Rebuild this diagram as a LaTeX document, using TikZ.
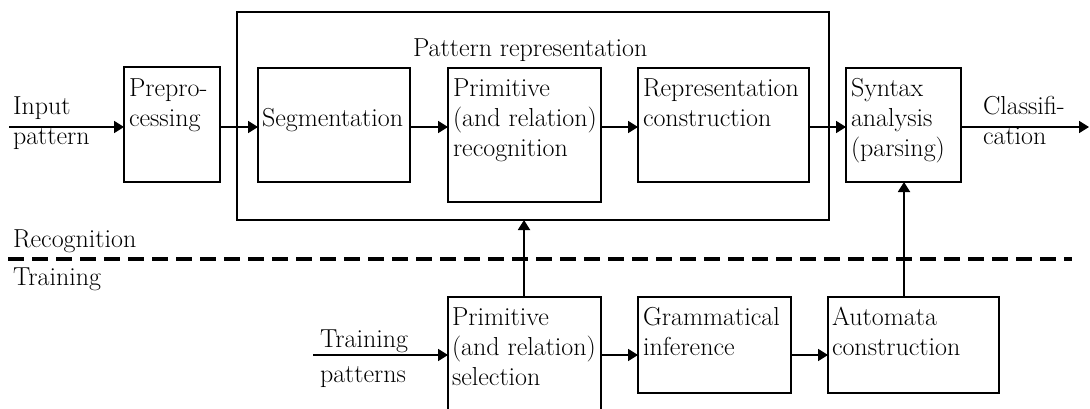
\documentclass[tikz,border=0pt]{standalone}
\usetikzlibrary{arrows.meta,calc}
\tikzset{
  blk/.style={draw, line width=1.8pt, inner sep=0pt, outer sep=0pt, anchor=north west},
  lbl/.style={inner sep=0pt, outer sep=0pt, anchor=base west, font=\fontsize{26}{30}\selectfont},
  flow/.style={line width=1.8pt, -{Triangle[length=10pt,width=12pt]}},
  split/.style={line width=3.5pt, dash pattern=on 16pt off 8pt}
}
\newcommand\lines[1]{\parbox[t]{230pt}{#1}}
\begin{document}
\begin{tikzpicture}[x=1pt,y=-1pt]
  \path[use as bounding box] (0,0) rectangle (1090,409);
  \clip (0,0) rectangle (1090,409);

  % helper rows and columns
  \coordinate (rowA) at (0,127);
  \coordinate (rowB) at (0,355);
  \coordinate (colP) at (524,0);
  \coordinate (colS) at (904,0);
  \coordinate (inp) at (9,127);
  \coordinate (out) at (1089,127);
  \coordinate (tin) at (313,355);
  \coordinate (dl) at (8,259);
  \coordinate (dr) at (1072,259);

  % recognition blocks
  \node[blk, minimum width=96pt,  minimum height=115pt] (pre) at (124,67) {};
  \node[blk, minimum width=592pt, minimum height=208pt] (pr)  at (237,12) {};
  \node[blk, minimum width=152pt, minimum height=114pt] (seg) at (258,68) {};
  \node[blk, minimum width=153pt, minimum height=134pt] (rec) at (448,68) {};
  \node[blk, minimum width=171pt, minimum height=114pt] (rep) at (638,68) {};
  \node[blk, minimum width=115pt, minimum height=114pt] (syn) at (846,68) {};

  % training blocks
  \node[blk, minimum width=153pt, minimum height=140pt] (sel) at (448,297) {};
  \node[blk, minimum width=153pt, minimum height=96pt]  (gra) at (638,297) {};
  \node[blk, minimum width=171pt, minimum height=96pt]  (aut) at (828,297) {};

  % block texts
  \node[lbl] (preT) at (129,97) {\lines{Prepro-\\cessing}};
  \node[lbl] (prT)  at (413,57) {Pattern representation};
  \node[lbl] (segT) at (262,127) {Segmentation};
  \node[lbl] (recT) at (453,97) {\lines{Primitive\\(and relation)\\recognition}};
  \node[lbl] (repT) at (643,97) {\lines{Representation\\construction}};
  \node[lbl] (synT) at (851,97) {\lines{Syntax\\analysis\\(parsing)}};
  \node[lbl] (selT) at (452,325) {\lines{Primitive\\(and relation)\\selection}};
  \node[lbl] (graT) at (643,325) {\lines{Grammatical\\inference}};
  \node[lbl] (autT) at (832,325) {\lines{Automata\\construction}};

  % free labels
  \node[lbl] (inT)  at (13,115) {\lines{Input\\pattern}};
  \node[lbl] (clT)  at (983,115) {\lines{Classifi-\\cation}};
  \node[lbl] (rcT)  at (13,247) {Recognition};
  \node[lbl] (trT)  at (13,285) {Training};
  \node[lbl] (tpT)  at (320,347) {\lines{\baselineskip=35pt Training\\patterns}};

  % dividing line between recognition and training
  \draw[split] (dl) -- (dr);

  % recognition flow
  \draw[flow] (inp) -- (pre.west |- rowA);
  \draw[flow] (pre.east |- rowA) -- (seg.west |- rowA);
  \draw[flow] (seg.east |- rowA) -- (rec.west |- rowA);
  \draw[flow] (rec.east |- rowA) -- (rep.west |- rowA);
  \draw[flow] (rep.east |- rowA) -- (syn.west |- rowA);
  \draw[flow] (syn.east |- rowA) -- (out);

  % training flow
  \draw[flow] (tin) -- (sel.west |- rowB);
  \draw[flow] (sel.east |- rowB) -- (gra.west |- rowB);
  \draw[flow] (gra.east |- rowB) -- (aut.west |- rowB);
  \draw[flow] (sel.north -| colP) -- (pr.south -| colP);
  \draw[flow] (aut.north -| colS) -- (syn.south -| colS);
\end{tikzpicture}
\end{document}
